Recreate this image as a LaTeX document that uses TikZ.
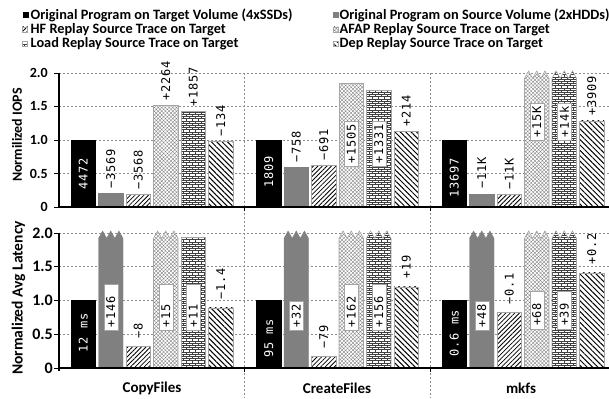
\documentclass[tikz,border=0pt]{standalone}
\usepackage{fontspec}
\setmainfont{Carlito}
\newfontfamily\monof{DejaVu Sans Mono}[LetterSpace=6]
\usetikzlibrary{patterns,patterns.meta}
\definecolor{midgray}{RGB}{128,128,128}
\definecolor{edgegray}{RGB}{165,165,165}
\definecolor{gridgray}{RGB}{140,140,140}
\pgfdeclarepattern{
  name=minibricks,
  type=uncolored,
  bottom left={\pgfpoint{-0.5pt}{-0.5pt}},
  top right={\pgfpoint{6.5pt}{5pt}},
  tile size={\pgfpoint{6pt}{4.4pt}},
  code={
    \pgfsetlinewidth{0.55pt}
    \pgfpathmoveto{\pgfpoint{0pt}{0pt}}\pgfpathlineto{\pgfpoint{6pt}{0pt}}
    \pgfpathmoveto{\pgfpoint{0pt}{2.2pt}}\pgfpathlineto{\pgfpoint{6pt}{2.2pt}}
    \pgfpathmoveto{\pgfpoint{0pt}{0pt}}\pgfpathlineto{\pgfpoint{0pt}{2.2pt}}
    \pgfpathmoveto{\pgfpoint{3pt}{2.2pt}}\pgfpathlineto{\pgfpoint{3pt}{4.4pt}}
    \pgfusepath{stroke}
  }
}
\newcommand\lf{\monof\fontsize{12}{12}\selectfont}
\tikzset{
  barblk/.style={fill=black,draw=black,line width=0.4pt},
  bargry/.style={fill=midgray,draw=midgray,line width=0.4pt},
  barhf/.style={preaction={fill=white},pattern={Lines[angle=45,distance=3.2pt,line width=0.8pt]},draw=edgegray,line width=0.6pt},
  barafap/.style={preaction={fill=white},pattern={Hatch[angle=45,distance=2.6pt,line width=0.35pt]},pattern color=gray,draw=edgegray,line width=0.6pt},
  barload/.style={preaction={fill=white},pattern=minibricks,pattern color=darkgray,draw=edgegray,line width=0.6pt},
  bardep/.style={preaction={fill=white},pattern={Lines[angle=-45,distance=3.8pt,line width=1pt]},draw=edgegray,line width=0.6pt},
  gridln/.style={draw=gridgray,line width=0.5pt,dash pattern=on 2pt off 2pt},
  axisln/.style={draw=black,line width=1.2pt},
  uplblT/.style={font=\lf,rotate=90,anchor=west,inner xsep=5pt,inner ysep=1pt},
  uplblB/.style={font=\lf,rotate=90,anchor=west,inner xsep=8pt,inner ysep=1pt},
  inlbl/.style={font=\lf,text=white,rotate=90,inner sep=1pt},
  boxlbl/.style={font=\lf,rotate=90,fill=white,draw=edgegray,line width=0.4pt,inner xsep=3pt,inner ysep=2.5pt,align=left},
  legtxt/.style={font=\bfseries\fontsize{14.3}{15}\selectfont,anchor=west,inner sep=0pt},
  ticklblT/.style={font=\bfseries\fontsize{14}{14}\selectfont,anchor=east,inner sep=0pt},
  ticklblB/.style={font=\bfseries\fontsize{16}{16}\selectfont,anchor=east,inner sep=0pt},
  grplbl/.style={font=\bfseries\fontsize{15}{15}\selectfont,inner sep=0pt},
}
\newcommand\mybar[3]{\path[#1] (#2,0) rectangle ++(24.5,#3);}
\newcommand\mybrk[2]{\path[#1] (#2,0) -- ++(0,1.92) -- ++(4.083,0.11) -- ++(4.083,-0.11) -- ++(4.083,0.11) -- ++(4.083,-0.11) -- ++(4.083,0.11) -- ++(4.083,-0.11) -- ++(0,-1.92) -- cycle;}
\newcommand\lupT[4]{\node[uplblT] (#1) at (#2,#3) {#4};}
\newcommand\lupB[4]{\node[uplblB] (#1) at (#2,#3) {#4};}
\newcommand\lin[4]{\node[inlbl] (#1) at (#2,#3) {#4};}
\newcommand\lbx[5][]{\node[boxlbl,#1] (#2) at (#3,#4) {#5};}
\begin{document}
\begin{tikzpicture}[x=1pt,y=1pt]
\useasboundingbox (0,0) rectangle (609,398);
% ---------- legend ----------
\path[barblk]  (22.7,380.5) rectangle ++(5,5);
\node[legtxt] (lg1) at (30.5,383) {Original Program on Target Volume (4xSSDs)};
\path[bargry]  (333,380.5) rectangle ++(5,5);
\node[legtxt] (lg2) at (339.5,383) {Original Program on Source Volume (2xHDDs)};
\path[barhf]   (22.7,366) rectangle ++(5,5);
\node[legtxt] (lg3) at (30.5,368.5) {HF Replay Source Trace on Target};
\path[barafap] (333,366) rectangle ++(5,5);
\node[legtxt] (lg4) at (339.5,368.5) {AFAP Replay Source Trace on Target};
\path[barload] (22.7,351.5) rectangle ++(5,5);
\node[legtxt] (lg5) at (30.5,354) {Load Replay Source Trace on Target};
\path[bardep]  (333,351.5) rectangle ++(5,5);
\node[legtxt] (lg6) at (339.5,354) {Dep Replay Source Trace on Target};
% ---------- group separators ----------
\draw[gridln] (244.5,325) -- (244.5,0);
\draw[gridln] (430,325) -- (430,0);
% ---------- axis titles ----------
\node[font=\bfseries\fontsize{14}{14}\selectfont,rotate=90,inner sep=0pt] (ytT) at (17,263) {Normilized IOPS};
\node[font=\bfseries\fontsize{15.5}{15.5}\selectfont,rotate=90,inner sep=0pt] (ytB) at (18.5,100) {Normalized Avg Latency};
\node[grplbl] (gx1) at (152,10) {CopyFiles};
\node[grplbl] (gx2) at (337,10) {CreateFiles};
\node[grplbl] (gx3) at (521,10) {mkfs};
% ================= TOP PANEL =================
\begin{scope}[yshift=191pt,y=67pt]
\foreach \v in {0.5,1,1.5,2}{\draw[gridln] (59,\v) -- (609,\v);}
% CopyFiles
\mybar{barblk}{71}{1.0}
\mybar{bargry}{98.5}{0.2}
\mybar{barhf}{126}{0.19}
\mybar{barafap}{153.5}{1.515}
\mybar{barload}{181}{1.425}
\mybar{bardep}{208.5}{0.975}
% CreateFiles
\mybar{barblk}{256.5}{1.0}
\mybar{bargry}{284}{0.59}
\mybar{barhf}{311.5}{0.615}
\mybar{barafap}{339}{1.84}
\mybar{barload}{366.5}{1.74}
\mybar{bardep}{394}{1.125}
% mkfs
\mybar{barblk}{442}{1.0}
\mybar{bargry}{469.5}{0.195}
\mybar{barhf}{497}{0.19}
\mybrk{barafap}{524.5}
\mybrk{barload}{552}
\mybar{bardep}{579.5}{1.285}
% axes
\draw[axisln] (59,-0.02) -- (59,2);
\draw[axisln] (59,0) -- (609,0);
\foreach \v/\t/\n in {0/0/a,0.5/0.5/b,1/1.0/c,1.5/1.5/d,2/2.0/e}{
  \draw[line width=0.8pt] (54,\v) -- (59,\v);
  \node[ticklblT] (tt\n) at (48,\v) {\t};
}
\draw[line width=0.8pt] (244.5,0) -- ++(0,-4pt);
\draw[line width=0.8pt] (430,0) -- ++(0,-4pt);
% labels
\lin{t11}{83.25}{0.49}{4472}
\lupT{t12}{110.75}{0.2}{−3569}
\lupT{t13}{138.25}{0.19}{−3568}
\lupT{t14}{165.75}{1.515}{+2264}
\lupT{t15}{193.25}{1.425}{+1857}
\lupT{t16}{220.75}{0.975}{−134}
\lin{t21}{268.75}{0.52}{1809}
\lupT{t22}{296.25}{0.59}{−758}
\lupT{t23}{323.75}{0.615}{−691}
\lbx{t24}{351.25}{0.94}{+1505}
\lbx{t25}{378.75}{0.94}{+1331}
\lupT{t26}{406.25}{1.125}{+214}
\lin{t31}{454.25}{0.43}{13697}
\lupT{t32}{481.75}{0.195}{−11K}
\lupT{t33}{509.25}{0.19}{−11K}
\lbx{t34}{536.75}{1.27}{+15K}
\lbx{t35}{564.25}{1.27}{+14k}
\lupT{t36}{591.75}{1.285}{+3909}
\end{scope}
% ================= BOTTOM PANEL =================
\begin{scope}[yshift=30pt,y=67.5pt]
\foreach \v in {0.5,1,1.5,2}{\draw[gridln] (59,\v) -- (609,\v);}
% CopyFiles
\mybar{barblk}{71}{1.0}
\mybrk{bargry}{98.5}
\mybar{barhf}{126}{0.32}
\mybrk{barafap}{153.5}
\mybar{barload}{181}{1.935}
\mybar{bardep}{208.5}{0.89}
% CreateFiles
\mybar{barblk}{256.5}{1.0}
\mybrk{bargry}{284}
\mybar{barhf}{311.5}{0.17}
\mybrk{barafap}{339}
\mybrk{barload}{366.5}
\mybar{bardep}{394}{1.2}
% mkfs
\mybar{barblk}{442}{1.0}
\mybrk{bargry}{469.5}
\mybar{barhf}{497}{0.82}
\mybrk{barafap}{524.5}
\mybrk{barload}{552}
\mybar{bardep}{579.5}{1.41}
% axes
\draw[axisln] (59,-0.04) -- (59,2);
\draw[axisln] (59,0) -- (609,0);
\foreach \v/\t/\n in {0/0/a,0.5/0.5/b,1/1.0/c,1.5/1.5/d,2/2.0/e}{
  \draw[line width=0.8pt] (54,\v) -- (59,\v);
  \node[ticklblB] (tb\n) at (53,\v) {\t};
}
\draw[line width=0.8pt] (244.5,0) -- ++(0,-4pt);
\draw[line width=0.8pt] (430,0) -- ++(0,-4pt);
% labels
\lin{b11}{83.25}{0.52}{12 ms}
\lbx[text width=40pt]{b12}{110.75}{0.9}{+146}
\lupB{b13}{138.25}{0.32}{−8}
\lbx[text width=40pt]{b14}{165.75}{0.9}{+15}
\lbx[text width=40pt]{b15}{193.25}{0.9}{+11}
\lupB{b16}{220.75}{0.89}{−1.4}
\lin{b21}{268.75}{0.44}{95 ms}
\lbx{b22}{296.25}{0.77}{+32}
\lupB{b23}{323.75}{0.17}{−79}
\lbx[text width=40pt]{b24}{351.25}{0.9}{+162}
\lbx[text width=40pt]{b25}{378.75}{0.9}{+156}
\lupB{b26}{406.25}{1.2}{+19}
\lin{b31}{454.25}{0.52}{0.6 ms}
\lbx{b32}{481.75}{0.77}{+48}
\lupB{b33}{509.25}{0.82}{−0.1}
\lbx[text width=32pt]{b34}{536.75}{0.86}{+68}
\lbx[text width=32pt]{b35}{564.25}{0.86}{+39}
\lupB{b36}{591.75}{1.41}{+0.2}
\end{scope}
\end{tikzpicture}
\end{document}
